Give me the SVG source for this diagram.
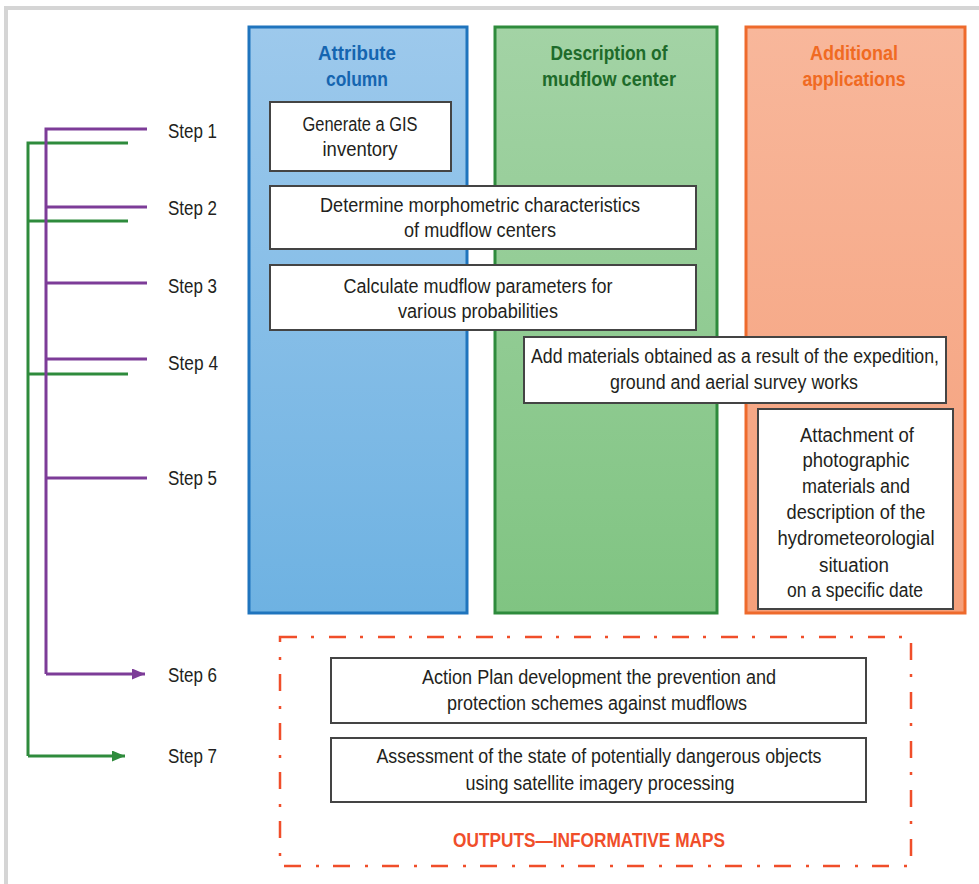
<svg xmlns="http://www.w3.org/2000/svg" width="979" height="884" viewBox="0 0 979 884">
<style>
.t{font-family:"Liberation Sans",Arial,sans-serif;font-size:20px;fill:#231f20;text-anchor:middle}
.s{font-family:"Liberation Sans",Arial,sans-serif;font-size:20px;fill:#231f20}
.h{font-family:"Liberation Sans",Arial,sans-serif;font-size:21px;font-weight:bold;text-anchor:middle}
.box{fill:#fff;stroke:#444;stroke-width:2}
.pl{stroke:#7d3c98;stroke-width:3;fill:none}
.gl{stroke:#2e8b3c;stroke-width:3;fill:none}
</style>
<defs>
<linearGradient id="gb" x1="0" y1="0" x2="0" y2="1"><stop offset="0" stop-color="#9dc9ec"/><stop offset="1" stop-color="#6eb2e2"/></linearGradient>
<linearGradient id="gg" x1="0" y1="0" x2="0" y2="1"><stop offset="0" stop-color="#a3d3a5"/><stop offset="1" stop-color="#80c482"/></linearGradient>
<linearGradient id="go" x1="0" y1="0" x2="0" y2="1"><stop offset="0" stop-color="#f8b79b"/><stop offset="1" stop-color="#f5a07b"/></linearGradient>
<marker id="ap" markerWidth="13" markerHeight="11" refX="13" refY="5.5" orient="auto" markerUnits="userSpaceOnUse"><path d="M0,0 L13,5.5 L0,11 Z" fill="#7d3c98"/></marker>
<marker id="ag" markerWidth="13" markerHeight="11" refX="13" refY="5.5" orient="auto" markerUnits="userSpaceOnUse"><path d="M0,0 L13,5.5 L0,11 Z" fill="#2e8b3c"/></marker>
</defs>
<rect x="0" y="0" width="979" height="884" fill="#fff"/>
<rect x="6" y="8" width="1100" height="1000" fill="none" stroke="#d5d5d5" stroke-width="4"/>

<g id="col-attribute">
<rect x="249" y="27" width="218" height="586" fill="url(#gb)" stroke="#1f74bd" stroke-width="3"/>
<text class="h" x="357" y="60" textLength="78" lengthAdjust="spacingAndGlyphs" style="fill:#1565b0">Attribute</text>
<text class="h" x="357" y="86" textLength="62" lengthAdjust="spacingAndGlyphs" style="fill:#1565b0">column</text>
</g>
<g id="col-description">
<rect x="495" y="27" width="222" height="586" fill="url(#gg)" stroke="#2e8b3c" stroke-width="3"/>
<text class="h" x="609" y="60" textLength="117" lengthAdjust="spacingAndGlyphs" style="fill:#1e6b2a">Description of</text>
<text class="h" x="609" y="86" textLength="134" lengthAdjust="spacingAndGlyphs" style="fill:#1e6b2a">mudflow center</text>
</g>
<g id="col-additional">
<rect x="746" y="27" width="219" height="586" fill="url(#go)" stroke="#ee6a2c" stroke-width="3"/>
<text class="h" x="854" y="60" textLength="88" lengthAdjust="spacingAndGlyphs" style="fill:#f06a22">Additional</text>
<text class="h" x="854" y="86" textLength="103" lengthAdjust="spacingAndGlyphs" style="fill:#f06a22">applications</text>
</g>

<g id="box1">
<rect class="box" x="270" y="102" width="181" height="69"/>
<text class="t" x="360" y="131" textLength="115" lengthAdjust="spacingAndGlyphs">Generate a GIS</text>
<text class="t" x="360" y="156" textLength="75" lengthAdjust="spacingAndGlyphs">inventory</text>
</g>
<g id="box2">
<rect class="box" x="270" y="186" width="426" height="63"/>
<text class="t" x="480" y="212" textLength="320" lengthAdjust="spacingAndGlyphs">Determine morphometric characteristics</text>
<text class="t" x="480" y="237" textLength="152" lengthAdjust="spacingAndGlyphs">of mudflow centers</text>
</g>
<g id="box3">
<rect class="box" x="270" y="265" width="426" height="65"/>
<text class="t" x="478" y="293" textLength="269" lengthAdjust="spacingAndGlyphs">Calculate mudflow parameters for</text>
<text class="t" x="478" y="318" textLength="160" lengthAdjust="spacingAndGlyphs">various probabilities</text>
</g>
<g id="box4">
<rect class="box" x="524" y="337" width="422" height="66"/>
<text class="t" x="735" y="363" textLength="408" lengthAdjust="spacingAndGlyphs">Add materials obtained as a result of the expedition,</text>
<text class="t" x="734" y="389" textLength="248" lengthAdjust="spacingAndGlyphs">ground and aerial survey works</text>
</g>
<g id="box5">
<rect class="box" x="758" y="409" width="195" height="200"/>
<text class="t" x="857" y="442" textLength="114" lengthAdjust="spacingAndGlyphs">Attachment of</text>
<text class="t" x="856" y="467" textLength="107" lengthAdjust="spacingAndGlyphs">photographic</text>
<text class="t" x="856" y="493" textLength="108" lengthAdjust="spacingAndGlyphs">materials and</text>
<text class="t" x="856" y="519" textLength="139" lengthAdjust="spacingAndGlyphs">description of the</text>
<text class="t" x="856" y="545" textLength="157" lengthAdjust="spacingAndGlyphs">hydrometeorologial</text>
<text class="t" x="854" y="572" textLength="70" lengthAdjust="spacingAndGlyphs">situation</text>
<text class="t" x="855" y="597" textLength="136" lengthAdjust="spacingAndGlyphs">on a specific date</text>
</g>

<g id="outputs">
<rect x="280" y="637" width="631" height="229" fill="none" stroke="#f04e2a" stroke-width="2.5" stroke-dasharray="17 14 3 15"/>
<text class="h" x="589" y="847" textLength="272" lengthAdjust="spacingAndGlyphs" style="fill:#f04e2a">OUTPUTS—INFORMATIVE MAPS</text>
</g>
<g id="box6">
<rect class="box" x="331" y="658" width="535" height="65"/>
<text class="t" x="599" y="684" textLength="354" lengthAdjust="spacingAndGlyphs">Action Plan development the prevention and</text>
<text class="t" x="597" y="710" textLength="300" lengthAdjust="spacingAndGlyphs">protection schemes against mudflows</text>
</g>
<g id="box7">
<rect class="box" x="331" y="738" width="535" height="64"/>
<text class="t" x="599" y="763" textLength="445" lengthAdjust="spacingAndGlyphs">Assessment of the state of potentially dangerous objects</text>
<text class="t" x="600" y="790" textLength="269" lengthAdjust="spacingAndGlyphs">using satellite imagery processing</text>
</g>

<g id="steps">
<text class="s" x="168" y="138" textLength="49" lengthAdjust="spacingAndGlyphs">Step 1</text>
<text class="s" x="168" y="215" textLength="49" lengthAdjust="spacingAndGlyphs">Step 2</text>
<text class="s" x="168" y="293" textLength="49" lengthAdjust="spacingAndGlyphs">Step 3</text>
<text class="s" x="168" y="370" textLength="50" lengthAdjust="spacingAndGlyphs">Step 4</text>
<text class="s" x="168" y="485" textLength="49" lengthAdjust="spacingAndGlyphs">Step 5</text>
<text class="s" x="168" y="682" textLength="49" lengthAdjust="spacingAndGlyphs">Step 6</text>
<text class="s" x="168" y="763" textLength="49" lengthAdjust="spacingAndGlyphs">Step 7</text>
</g>

<g id="connectors">
<path class="gl" d="M128,143 H28 V756"/>
<path class="gl" d="M28,221 H128"/>
<path class="gl" d="M28,374 H128"/>
<path class="gl" d="M28,756 H125" marker-end="url(#ag)"/>
<path class="pl" d="M147,129 H46 V674"/>
<path class="pl" d="M46,207 H147"/>
<path class="pl" d="M46,283 H147"/>
<path class="pl" d="M46,359 H147"/>
<path class="pl" d="M46,478 H147"/>
<path class="pl" d="M46,674 H145" marker-end="url(#ap)"/>
</g>
</svg>
